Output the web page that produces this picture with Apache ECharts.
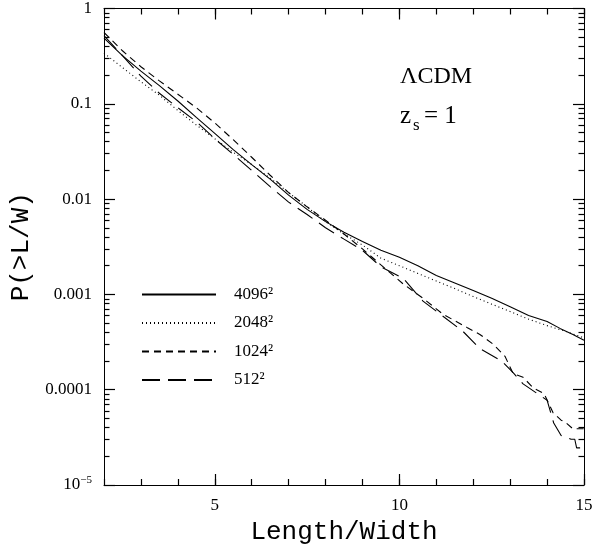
<!DOCTYPE html>
<html>
<head>
<meta charset="utf-8">
<script src="https://cdn.jsdelivr.net/npm/echarts@6/dist/echarts.min.js"></script>
<style>
  html, body { margin: 0; padding: 0; background: #fff; }
  #chart { width: 610px; height: 554px; }
</style>
</head>
<body>
<div id="chart"></div>
<script>
// Cumulative probability P(>L/W) of image elongation for four grid resolutions.
const legendNames = ['4096²', '2048²', '1024²', '512²'];

const lw4096 = [2, 2.5, 3, 3.5, 4, 4.5, 5, 5.5, 6, 6.5, 7, 7.5, 8, 8.5, 9, 9.5, 10, 10.5, 11, 11.5, 12, 12.5, 13, 13.5, 14, 14.35, 14.7, 15];
const p4096 = [0.49, 0.32, 0.22, 0.155, 0.107, 0.072, 0.049, 0.033, 0.023, 0.0162, 0.011, 0.0078, 0.0058, 0.0045, 0.0036, 0.0029, 0.00245, 0.002, 0.00158, 0.00132, 0.0011, 0.00091, 0.00074, 0.0006, 0.00052, 0.00044, 0.00038, 0.00033];

const lw2048 = [2, 2.5, 3, 3.5, 4, 4.5, 5, 5.5, 6, 6.5, 7, 7.5, 8, 8.5, 9, 9.5, 10, 10.5, 11, 11.5, 12, 12.5, 13, 13.5, 14, 14.5, 15];
const p2048 = [0.34, 0.24, 0.17, 0.123, 0.085, 0.06, 0.043, 0.031, 0.023, 0.0166, 0.0117, 0.0083, 0.0058, 0.0043, 0.0033, 0.0024, 0.002, 0.00166, 0.00138, 0.00115, 0.00095, 0.00079, 0.00066, 0.00055, 0.00047, 0.00041, 0.00035];

const lw1024 = [2, 2.5, 3, 3.5, 4, 4.5, 5, 5.5, 6, 6.5, 7, 7.5, 8, 8.5, 9, 9.5, 10.1, 10.64, 11.18, 11.83, 12.18, 12.54, 12.86, 13.08, 13.35, 13.62, 13.92, 14.16, 14.38, 14.49, 14.7, 15];
const p1024 = [0.56, 0.36, 0.245, 0.174, 0.126, 0.091, 0.063, 0.042, 0.0275, 0.0178, 0.0117, 0.0083, 0.006, 0.0043, 0.003, 0.00204, 0.00129, 0.00091, 0.00062, 0.00045, 0.00038, 0.0003, 0.000224, 0.000148, 0.000135, 0.000105, 0.000091, 0.0000575, 0.0000479, 0.0000457, 0.0000389, 0.0000389];

const lw512 = [2, 2.5, 3, 3.5, 4, 4.5, 5, 5.5, 6, 6.5, 7, 7.5, 8, 8.5, 9, 9.5, 10.1, 10.64, 11.18, 11.72, 12.18, 12.77, 13.08, 13.35, 14.0, 14.18, 14.38, 14.65, 14.75, 14.8, 15];
const p512 = [0.52, 0.32, 0.195, 0.129, 0.091, 0.065, 0.043, 0.0295, 0.02, 0.0135, 0.0093, 0.0069, 0.005, 0.0038, 0.0029, 0.00195, 0.00148, 0.00085, 0.00059, 0.00041, 0.00027, 0.0002, 0.000151, 0.000115, 0.0000776, 0.0000447, 0.0000331, 0.0000302, 0.0000302, 0.0000245, 0.0000245];

const xMajorTicks = [5, 10, 15];
const yLabels = { '1': '1', '0.1': '0.1', '0.01': '0.01', '0.001': '0.001', '0.0001': '0.0001', '0.00001': '{b|10}{s|−5}' };

const zip = (xs, ys) => xs.map((x, i) => [x, ys[i]]);

// minor decade ticks 2..9 × 10^k, placed on a linear axis of log10 values
const yMinor = [];
for (let k = -5; k < 0; k++) {
  for (let m = 2; m <= 9; m++) yMinor.push(Math.log10(m) + k);
}

const serif = 'Liberation Serif';
const mono = 'Liberation Mono';
const black = '#000';
const tickWidth = 1.2;

const grid = { left: 104, right: 26, top: 5, bottom: 69 };

function xAxisDef(pos, major, withLabels) {
  const a = {
    type: 'value', position: pos, min: 2, max: 15,
    axisLine: { show: major, onZero: false, lineStyle: { color: black, width: 1 } },
    splitLine: { show: false },
    axisTick: major
      ? { show: true, inside: true, length: 11, customValues: xMajorTicks, lineStyle: { color: black, width: tickWidth } }
      : { show: true, inside: true, length: 6, lineStyle: { color: black, width: tickWidth } },
    axisLabel: { show: false }
  };
  if (!major) a.interval = 1;
  if (withLabels) {
    a.axisLabel = { show: true, customValues: xMajorTicks, margin: 12, color: black, fontFamily: serif, fontSize: 17 };
    a.name = 'Length/Width';
    a.nameLocation = 'middle';
    a.nameGap = 34;
    a.nameTextStyle = { fontFamily: mono, fontSize: 26, color: black };
  }
  return a;
}

function yLogAxis(pos, withLabels) {
  const a = {
    type: 'log', logBase: 10, position: pos, min: 1e-5, max: 1,
    axisLine: { show: true, onZero: false, lineStyle: { color: black, width: 1 } },
    splitLine: { show: false },
    axisTick: { show: true, inside: true, length: 11, lineStyle: { color: black, width: tickWidth } },
    axisLabel: { show: false }
  };
  if (withLabels) {
    a.axisLabel = {
      show: true, margin: 12, color: black, fontFamily: serif, fontSize: 17,
      formatter: v => {
        const key = String(Number(v.toPrecision(3)));
        return yLabels[key] !== undefined ? yLabels[key] : (v < 2e-5 ? yLabels['0.00001'] : key);
      },
      rich: {
        b: { fontFamily: serif, fontSize: 17, color: black },
        s: { fontFamily: serif, fontSize: 11, color: black, padding: [0, 0, 9, 0] }
      }
    };
    a.name = 'P(>L/W)';
    a.nameLocation = 'middle';
    a.nameGap = 48;
    a.nameTextStyle = { fontFamily: mono, fontSize: 26, color: black };
  }
  return a;
}

function yMinorAxis(pos) {
  return {
    type: 'value', position: pos, min: -5, max: 0,
    axisLine: { show: false, onZero: false },
    splitLine: { show: false },
    axisTick: { show: true, inside: true, length: 5.5, customValues: yMinor, lineStyle: { color: black, width: tickWidth } },
    axisLabel: { show: false }
  };
}

function lineSeries(name, data, type) {
  return {
    name, type: 'line', data, xAxisIndex: 0, yAxisIndex: 0,
    symbol: 'none', showSymbol: false, smooth: false, silent: true,
    lineStyle: { color: black, width: 1.1, type },
    itemStyle: { color: black },
    animation: false
  };
}

const chart = echarts.init(document.getElementById('chart'), null, { renderer: 'canvas' });
chart.setOption({
  animation: false,
  backgroundColor: '#fff',
  grid,
  xAxis: [xAxisDef('bottom', true, true), xAxisDef('bottom', false, false), xAxisDef('top', true, false), xAxisDef('top', false, false)],
  yAxis: [yLogAxis('left', true), yMinorAxis('left'), yLogAxis('right', false), yMinorAxis('right')],
  legend: {
    orient: 'vertical', left: 141, top: 286, padding: 0,
    itemWidth: 74, itemHeight: 20, itemGap: 11.5,
    data: legendNames,
    itemStyle: { opacity: 0 },
    textStyle: { fontFamily: serif, fontSize: 17, color: black, padding: [0, 0, 0, 13] },
    selectedMode: false
  },
  series: [
    lineSeries(legendNames[0], zip(lw4096, p4096), 'solid'),
    lineSeries(legendNames[1], zip(lw2048, p2048), [1, 3]),
    lineSeries(legendNames[2], zip(lw1024, p1024), [7, 5]),
    lineSeries(legendNames[3], zip(lw512, p512), [18, 8])
  ],
  graphic: [
    { type: 'text', x: 400, y: 77, style: { text: 'ΛCDM', font: '24px "Liberation Serif"', fill: black, verticalAlign: 'middle' } },
    { type: 'text', x: 400, y: 116, style: { text: 'z', font: '25px "Liberation Serif"', fill: black, verticalAlign: 'middle' } },
    { type: 'text', x: 413, y: 126, style: { text: 's', font: '17px "Liberation Serif"', fill: black, verticalAlign: 'middle' } },
    { type: 'text', x: 424, y: 116, style: { text: '= 1', font: '25px "Liberation Serif"', fill: black, verticalAlign: 'middle' } }
  ]
});
</script>
</body>
</html>
